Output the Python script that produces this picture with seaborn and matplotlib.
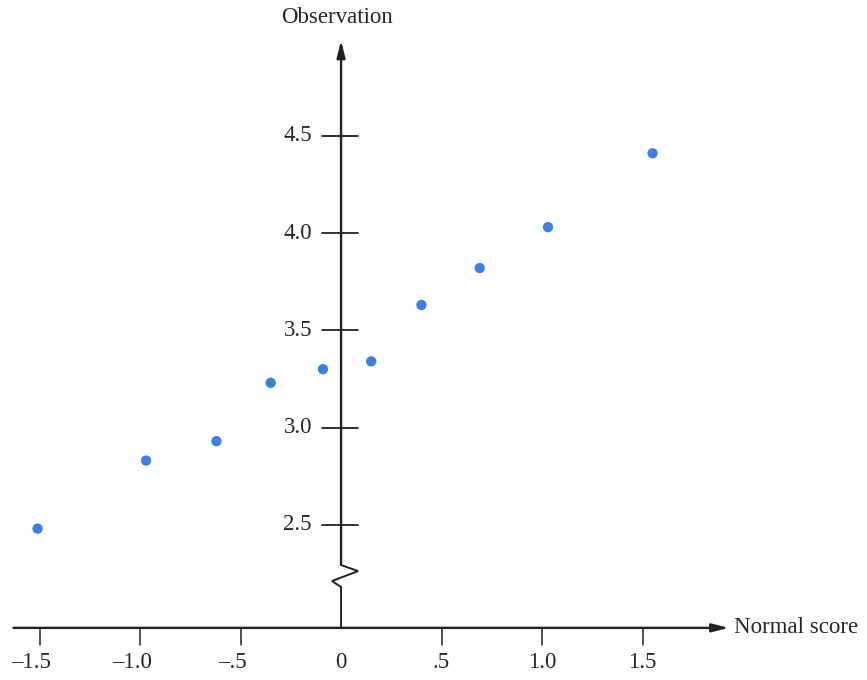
import numpy as np
import pandas as pd
import matplotlib
matplotlib.use("Agg")
import matplotlib.pyplot as plt
import seaborn as sns

normal_scores = [-1.51, -0.97, -0.62, -0.35, -0.09, 0.15, 0.40, 0.69, 1.03, 1.55]
observations = [2.48, 2.83, 2.93, 3.23, 3.30, 3.34, 3.63, 3.82, 4.03, 4.41]

x_ticks = [-1.5, -1.0, -0.5, 0, 0.5, 1.0, 1.5]
x_tick_labels = ['\u20131.5', '\u20131.0', '\u2013.5', '0', '.5', '1.0', '1.5']
y_ticks = [2.5, 3.0, 3.5, 4.0, 4.5]
y_tick_labels = ['2.5', '3.0', '3.5', '4.0', '4.5']

AXIS_COLOR = '#222222'
DOT_COLOR = '#3b80e3'
X_AXIS_Y = 1.97      # where the horizontal axis sits (broken y scale)
FS = 16.5


def draw_axes(ax):
    """hand-drawn axes crossing at x = 0, with a break on the vertical axis"""
    arrow = dict(arrowstyle='-|>,head_length=1.0,head_width=0.25',
                 color=AXIS_COLOR, lw=1.7, shrinkA=0, shrinkB=0)
    # horizontal axis
    ax.annotate('', xy=(1.93, X_AXIS_Y), xytext=(-1.63, X_AXIS_Y), arrowprops=arrow)
    ax.text(1.955, X_AXIS_Y, 'Normal score', ha='left', va='center', fontsize=FS)

    # vertical axis with zigzag break (goes right, then left, going down)
    zz_x = [0, 0, -0.045, 0.085, 0, 0]
    zz_y = [X_AXIS_Y, 2.18, 2.211, 2.262, 2.293, 2.30]
    ax.plot(zz_x, zz_y, color=AXIS_COLOR, lw=1.4, solid_joinstyle='miter')
    ax.annotate('', xy=(0, 4.99), xytext=(0, 2.30), arrowprops=arrow)
    ax.text(-0.02, 5.11, 'Observation', ha='center', va='center', fontsize=FS)

    # y ticks: short crossing marks with labels on the left
    for v, lab in zip(y_ticks, y_tick_labels):
        ax.plot([-0.095, 0.085], [v, v], color=AXIS_COLOR, lw=1.3)
        ax.text(-0.145, v, lab, ha='right', va='center', fontsize=FS)

    # x ticks: marks below the axis
    for v, lab in zip(x_ticks, x_tick_labels):
        if v != 0:
            ax.plot([v, v], [X_AXIS_Y, X_AXIS_Y - 0.09], color=AXIS_COLOR, lw=1.1)
        ax.text(v - (0.04 if v < 0 else 0), X_AXIS_Y - 0.18, lab,
                ha='center', va='center', fontsize=FS)


def main():
    sns.set_style('white')
    plt.rcParams['font.family'] = ['Liberation Serif', 'DejaVu Serif']

    df = pd.DataFrame({'Normal score': normal_scores, 'Observation': observations})

    fig = plt.figure(figsize=(8.67, 6.8), dpi=100)
    ax = fig.add_axes([0, 0, 1, 1])

    sns.scatterplot(data=df, x='Normal score', y='Observation', ax=ax,
                    color=DOT_COLOR, s=55, edgecolor='none', zorder=3)

    ax.set_xlim(-1.697, 2.617)
    ax.set_ylim(1.702, 5.198)
    ax.set_axis_off()

    draw_axes(ax)

    fig.savefig('out.png', dpi=100, facecolor='white')
    plt.close(fig)


if __name__ == '__main__':
    main()
